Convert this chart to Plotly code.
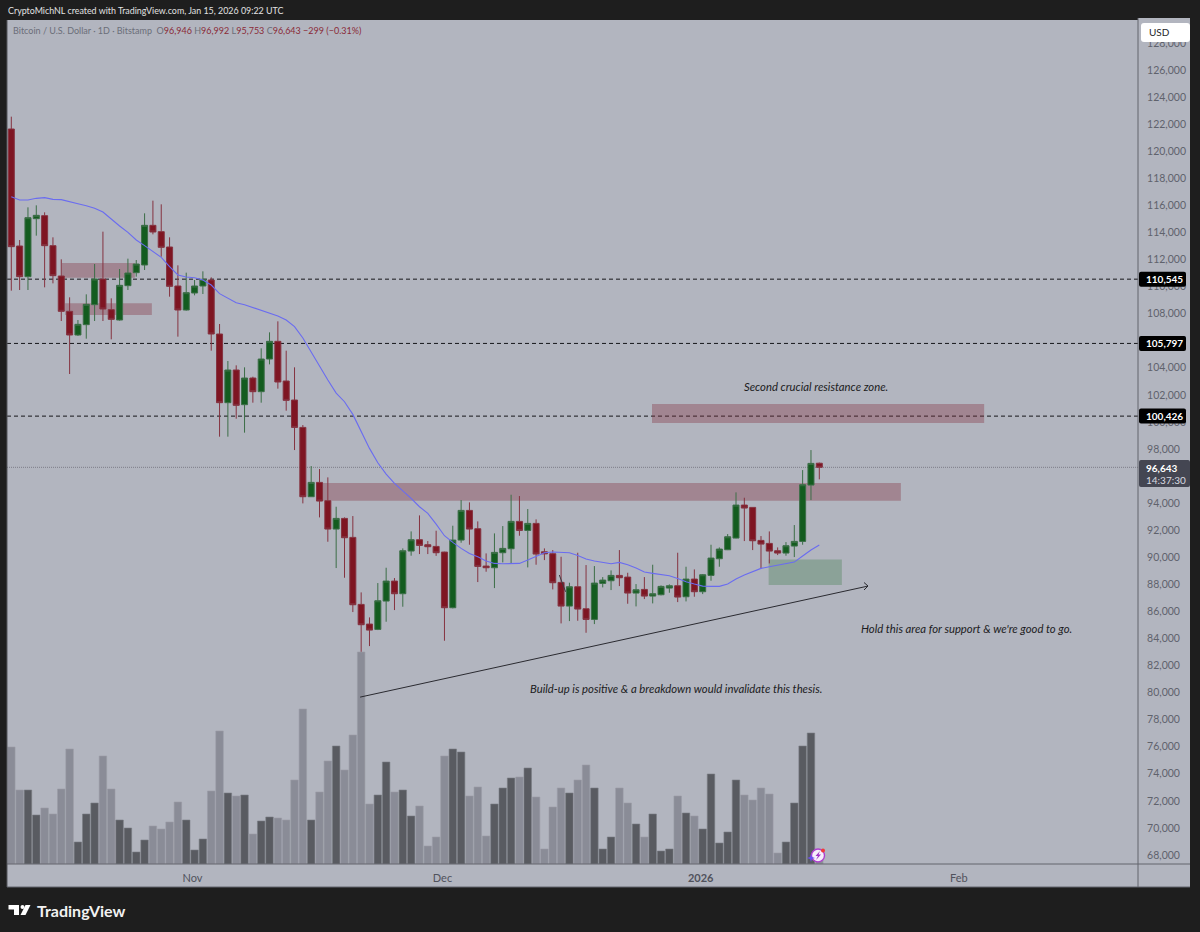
# BTC/USD daily chart, redrawn from a TradingView snapshot
import pandas as pd
import plotly.graph_objects as go

dates = pd.date_range("2025-10-10", "2026-01-15", freq="D")

opens = [121640, 112995, 110729, 115015, 115236, 113020, 110778, 108168, 106419, 107183,
         108660, 110557, 108291, 107527, 110064, 111025, 111591, 114522, 114054, 112921,
         110039, 108266, 109522, 110039, 110483, 106493, 101419, 103833, 101271, 103241,
         102232, 104645, 105951, 103020, 101616, 99593, 94470, 95529, 94175, 92081,
         92869, 91466, 86515, 85062, 84667, 86761, 88239, 87303, 90456, 91293,
         90924, 90800, 90382, 86269, 91268, 93460, 92106, 89347, 89224, 90333,
         90628, 92648, 91983, 92500, 90400, 90259, 88140, 86391, 87820, 86194,
         85406, 88067, 88263, 88657, 88534, 87352, 87623, 87130, 87229, 87722,
         87894, 87081, 88386, 87451, 88657, 89889, 90554, 91416, 93854, 93682,
         91243, 91022, 90480, 90308, 90825, 91170, 95332, 96946]
highs = [122551, 113438, 115852, 116000, 115483, 113635, 112010, 109202, 107527, 109424,
         111665, 114054, 109128, 111295, 112059, 111961, 115409, 116345, 116074, 113635,
         111567, 111025, 110483, 111123, 110680, 107232, 104498, 104178, 104030, 103340,
         105434, 106616, 107429, 105261, 104030, 99766, 96736, 96515, 95899, 93731,
         92943, 93042, 87402, 85555, 88091, 89224, 88461, 90653, 91909, 93091,
         91195, 91958, 90406, 92328, 94224, 94052, 92648, 90283, 91761, 92303,
         94618, 94520, 93559, 92796, 90653, 90530, 90037, 88116, 90332, 89421,
         89347, 88534, 89027, 90529, 88854, 88017, 88534, 89446, 87918, 87993,
         90332, 89298, 89101, 88756, 90923, 90726, 91712, 94790, 94396, 93682,
         91564, 91908, 90726, 91120, 92377, 96440, 97918, 96992]
lows = [109695, 109744, 109744, 113759, 109941, 110236, 107453, 103538, 106345, 106148,
        107453, 107453, 106099, 107478, 109744, 110729, 111222, 113857, 112207, 109251,
        106296, 108217, 109350, 109448, 105261, 98907, 98907, 100237, 99203, 101419,
        101419, 104251, 102454, 100828, 97919, 93978, 94470, 92943, 91145, 89200,
        88485, 85949, 80600, 83436, 84618, 85234, 86096, 86343, 90111, 90234,
        90234, 90100, 83830, 86220, 91072, 90924, 88165, 88929, 87722, 89618,
        89544, 91589, 89249, 89446, 89790, 87623, 85111, 85283, 85308, 84421,
        85061, 87771, 87574, 87869, 86564, 86367, 86909, 86589, 87180, 87376,
        86687, 86736, 87081, 87278, 88263, 89298, 90530, 91392, 91194, 90529,
        89175, 89544, 90160, 90111, 90012, 90923, 94224, 95753]
closes = [112946, 110729, 115089, 115261, 113020, 110803, 108168, 106419, 107207, 108685,
          110557, 108340, 107576, 110089, 111000, 111665, 114522, 114030, 112897, 110015,
          108266, 109547, 110039, 110532, 106493, 101419, 103833, 101222, 103241, 102232,
          104645, 105951, 102946, 101591, 99593, 94470, 95529, 94150, 92081, 92869,
          91441, 86490, 85013, 84618, 86786, 88239, 87303, 90480, 91293, 90875,
          90776, 90333, 86269, 91268, 93460, 92081, 89323, 89224, 90357, 90653,
          92648, 91983, 92500, 90234, 90250, 88116, 86391, 87820, 86170, 85406,
          88091, 88312, 88657, 88485, 87352, 87598, 87130, 87303, 87845, 87894,
          87056, 88386, 87451, 88707, 89938, 90603, 91514, 93854, 93633, 91219,
          90972, 90455, 90308, 90850, 91170, 95357, 96933, 96643]
volumes = [5850, 3700, 3700, 2450, 2800, 2500, 3750, 5750, 1100, 2500,
           3050, 5400, 3750, 2200, 1800, 600, 1200, 1900, 1750, 2100,
           3100, 2200, 700, 1250, 3650, 6650, 3550, 3400, 3450, 1500,
           2150, 2350, 2300, 2200, 4200, 7750, 2200, 3600, 5150, 5900,
           4700, 6450, 10600, 3000, 3450, 5100, 3600, 3700, 2400, 2900,
           900, 1350, 5400, 5750, 5600, 3400, 3850, 1400, 3000, 3800,
           4300, 4350, 4800, 3350, 750, 2850, 3800, 3550, 4200, 4950,
           3800, 750, 1350, 3800, 3050, 2000, 1350, 2500, 650, 750,
           3400, 2550, 2400, 1750, 4500, 1050, 1600, 4200, 3450, 3200,
           3800, 3500, 550, 1100, 3050, 5900, 6550, 400]
ma = [116640, 116394, 116394, 116517, 116566, 116443, 116419, 116246, 116123, 115975,
      115778, 115507, 114965, 114473, 114005, 113438, 113020, 112576, 112158, 111468,
      110852, 110704, 110655, 110483, 110114, 109473, 109128, 108808, 108660, 108463,
      108266, 108069, 107823, 107527, 107034, 106195, 105160, 104052, 103091, 102130,
      101490, 100554, 99273, 98042, 96983, 96145, 95455, 94914, 94347, 93731,
      93239, 92451, 91589, 91096, 90653, 90283, 90037, 89717, 89544, 89520,
      89520, 89544, 89791, 90086, 90333, 90382, 90332, 90332, 90135, 89864,
      89716, 89593, 89519, 89618, 89445, 89199, 88904, 88805, 88731, 88633,
      88436, 88190, 88017, 87869, 87845, 87845, 88017, 88387, 88682, 88928,
      89175, 89298, 89421, 89519, 89642, 90086, 90529, 90899]

levels = [110545, 105797, 100426]
last_price = 96643
price_ticks = list(range(68000, 130000, 2000))
month_ticks = ["2025-11-01", "2025-12-01", "2026-01-01", "2026-02-01"]
month_labels = ["Nov", "Dec", "<b>2026</b>", "Feb"]

# zones: start, end, price top, price bottom
red_zones = [("2025-10-16 02:00", "2025-10-24 20:00", 111739, 110655),
             ("2025-10-16 11:00", "2025-10-26 21:00", 108759, 107897),
             ("2025-12-25 22:00", "2026-02-03 19:00", 101317, 99913),
             ("2025-11-16 07:00", "2026-01-24 19:00", 95480, 94175)]
green_zone = ("2026-01-08 22:00", "2026-01-17 17:00", 89840, 87943)

BG = "#b2b5bf"
DARK = "#1e1e1e"
EDGE = "#62646d"
TICK = "#5f626c"
RED_VALUE = "#8a2a37"
TEXT_FONT = "Lato"


def fx(x):
    return (x - 7) / 1131


def fy(y):
    return (864 - y) / 844


def paper_rect(x0, y0, x1, y1, fill, layer="below"):
    return dict(type="rect", xref="paper", yref="paper", x0=fx(x0), x1=fx(x1), y0=fy(y0), y1=fy(y1),
                fillcolor=fill, line=dict(width=0), layer=layer)


def rounded_box(x0, y0, x1, y1, fill, r=3):
    path = (f"M{fx(x0 + r)},{fy(y0)} L{fx(x1 - r)},{fy(y0)} Q{fx(x1)},{fy(y0)} {fx(x1)},{fy(y0 + r)} "
            f"L{fx(x1)},{fy(y1 - r)} Q{fx(x1)},{fy(y1)} {fx(x1 - r)},{fy(y1)} "
            f"L{fx(x0 + r)},{fy(y1)} Q{fx(x0)},{fy(y1)} {fx(x0)},{fy(y1 - r)} "
            f"L{fx(x0)},{fy(y0 + r)} Q{fx(x0)},{fy(y0)} {fx(x0 + r)},{fy(y0)} Z")
    return dict(type="path", xref="paper", yref="paper", path=path, fillcolor=fill, line=dict(width=0), layer="above")


def paper_line(x0, y0, x1, y1, color=EDGE, width=1):
    return dict(type="line", xref="paper", yref="paper", x0=fx(x0), x1=fx(x1), y0=fy(y0), y1=fy(y1),
                line=dict(color=color, width=width), layer="above")


def paper_poly(points, fill):
    parts = [("M" if i == 0 else "L") + f"{fx(x)},{fy(y)}" for i, (x, y) in enumerate(points)]
    return dict(type="path", xref="paper", yref="paper", path=" ".join(parts) + " Z", fillcolor=fill,
                line=dict(width=0), layer="above")


def label(x, y, text, size=11, color="#ffffff", family=TEXT_FONT):
    return dict(xref="paper", yref="paper", x=fx(x), y=fy(y), text=text, showarrow=False, xanchor="left",
                yanchor="middle", font=dict(size=size, color=color, family=family))


def note(x, y, text):
    return dict(x=x, y=y, text=f"<i>{text}</i>", showarrow=False, font=dict(size=11.3, color="#1c1c22", family=TEXT_FONT))


fig = go.Figure()

fig.add_trace(go.Candlestick(
    x=dates, open=opens, high=highs, low=lows, close=closes, yaxis="y",
    increasing=dict(fillcolor="#135c1f", line=dict(color="#3c6e47", width=1)),
    decreasing=dict(fillcolor="#7e1522", line=dict(color="#853340", width=1)),
    hoverinfo="skip", showlegend=False))
fig.add_trace(go.Scatter(x=dates, y=ma, mode="lines", line=dict(color="#6a6cf0", width=1.1), yaxis="y",
                         hoverinfo="skip", showlegend=False))
fig.add_trace(go.Bar(
    x=dates, y=volumes, yaxis="y2",
    marker=dict(color=["#595b61" if c >= o else "#8a8c97" for o, c in zip(opens, closes)],
                line=dict(color=["#7b7d85" if c >= o else "#9a9ca6" for o, c in zip(opens, closes)], width=0.6)),
    hoverinfo="skip", showlegend=False))

shapes = [
    # price and time scale panels
    paper_rect(1138, 18, 1190, 887, BG),
    paper_rect(7, 864, 1190, 887, BG),
]
for start, end, top, bottom in red_zones:
    shapes.append(dict(type="rect", xref="x", yref="y", x0=start, x1=end, y0=bottom, y1=top,
                       fillcolor="rgba(130,50,65,0.36)", line=dict(width=0), layer="below"))
shapes.append(dict(type="rect", xref="x", yref="y", x0=green_zone[0], x1=green_zone[1],
                   y0=green_zone[3], y1=green_zone[2], fillcolor="rgba(60,120,70,0.32)",
                   line=dict(width=0), layer="below"))
for level in levels:
    shapes.append(dict(type="line", xref="paper", yref="y", x0=0, x1=1, y0=level, y1=level,
                       line=dict(color="#16161a", width=1, dash="4px,3px"), layer="below"))
shapes.append(dict(type="line", xref="paper", yref="y", x0=0, x1=1, y0=last_price, y1=last_price,
                   line=dict(color="#7c7e88", width=1, dash="1px,1px"), layer="below"))
# small stray drawing in the reference
shapes.append(dict(type="line", xref="x", yref="y", x0="2025-12-14 19:00", x1="2025-12-15 13:00",
                   y0=88682, y1=87450, line=dict(color="#3a3a40", width=1)))
# trend arrow, with an open head
shapes.append(dict(type="line", xref="x", yref="y", x0="2025-11-20 21:00", x1="2026-01-20 20:00",
                   y0=79665, y1=87868, line=dict(color="#2a2a30", width=1)))
shapes += [paper_line(864, 582.5, 868, 586, "#2a2a30"), paper_line(864, 590, 868, 586, "#2a2a30")]
# panel edges
shapes += [
    paper_line(1138, 18, 1138, 887),
    paper_line(7, 864, 1190, 864),
    paper_line(7, 887, 1190, 887),
    paper_line(7, 20, 7, 887, "#54565c", 1),
]
shapes.append(rounded_box(1141, 23, 1190, 42, "#ffffff"))
# price labels on the scale
for level in levels:
    y_px = 70 + (126000 - level) / 73.9
    shapes.append(rounded_box(1139, y_px - 7.5, 1186, y_px + 7.5, "#000000", r=2))
shapes.append(rounded_box(1139, 460, 1190, 487, "#444652", r=2))
# TradingView logo
shapes.append(paper_poly([(8.5, 905), (19, 905), (19, 915), (14, 915), (14, 909.5), (8.5, 909.5)], "#ffffff"))
shapes.append(dict(type="circle", xref="paper", yref="paper", x0=fx(20.5), x1=fx(24.5), y0=fy(909), y1=fy(905),
                   fillcolor="#ffffff", line=dict(width=0), layer="above"))
shapes.append(paper_poly([(25.5, 905), (30.5, 905), (25.5, 915), (20.5, 915)], "#ffffff"))
# assistant badge on the time scale
shapes.append(dict(type="circle", xref="paper", yref="paper", x0=fx(811.5), x1=fx(824.5), y0=fy(862), y1=fy(849),
                   fillcolor="#f6eefa", line=dict(color="#b03fd0", width=1.4), layer="above"))
shapes.append(paper_poly([(820, 851), (815.5, 856), (818, 856), (816, 860), (821, 854.5), (818.5, 854.5)], "#a030c8"))
shapes.append(dict(type="circle", xref="paper", yref="paper", x0=fx(821), x1=fx(825), y0=fy(852.5), y1=fy(848.5),
                   fillcolor="#f03a3a", line=dict(width=0), layer="above"))
shapes.append(paper_poly([(811, 854), (812, 857), (815, 858), (812, 859), (811, 862), (810, 859), (807, 858),
                          (810, 857)], "#6a4cf0"))

legend_text = ('<span style="color:#6b6e79">Bitcoin / U.S. Dollar · 1D · Bitstamp  </span>'
               f'<span style="color:#6b6e79">O</span><span style="color:{RED_VALUE}">96,946 </span>'
               f'<span style="color:#6b6e79">H</span><span style="color:{RED_VALUE}">96,992 </span>'
               f'<span style="color:#6b6e79">L</span><span style="color:{RED_VALUE}">95,753 </span>'
               f'<span style="color:#6b6e79">C</span><span style="color:{RED_VALUE}">96,643 −299 (−0.31%)</span>')

annotations = [
    label(6, 10, "CryptoMichNL created with TradingView.com, Jan 15, 2026 09:22 UTC", size=8.9, color="#e2e2e2"),
    label(11, 30.5, legend_text, size=9),
    label(1147, 32.5, "USD", size=10, color="#26262b"),
    label(1144, 467.5, "<b>96,643</b>", size=10),
    label(1144, 480, "14:37:30", size=10, color="#d9dae0"),
    label(35, 910, "<b>TradingView</b>", size=16, color="#f2f2f2"),
    note("2026-01-14 14:00", 102648, "Second crucial resistance zone."),
    note("2026-02-01 17:00", 84764, "Hold this area for support &amp; we're good to go."),
    note("2025-12-28 19:00", 80330, "Build-up is positive &amp; a breakdown would invalidate this thesis."),
]
for level in levels:
    annotations.append(dict(xref="paper", yref="y", x=fx(1144), y=level, text=f"<b>{level:,}</b>", showarrow=False,
                            xanchor="left", yanchor="middle", font=dict(size=10, color="#ffffff", family=TEXT_FONT)))

fig.update_layout(
    width=1200, height=932,
    margin=dict(l=7, r=62, t=20, b=68),
    paper_bgcolor=DARK,
    plot_bgcolor=BG,
    bargap=0.1,
    boxgap=0.15,
    boxgroupgap=0.15,
    showlegend=False,
    shapes=shapes,
    annotations=annotations,
    xaxis=dict(type="date", range=["2025-10-09 11:36", "2026-02-22 06:14"], rangeslider=dict(visible=False),
               showgrid=False, zeroline=False, tickmode="array", tickvals=month_ticks, ticktext=month_labels,
               ticks="outside", ticklen=4, ticklabelshift=-2, tickcolor="rgba(0,0,0,0)",
               tickfont=dict(size=11, color="#50525c", family=TEXT_FONT)),
    yaxis=dict(side="right", range=[67335, 129693], showgrid=False, zeroline=False, tickmode="array",
               tickvals=price_ticks, ticktext=[f"{t:,}" for t in price_ticks], ticks="outside", ticklen=6,
               tickcolor="rgba(0,0,0,0)", tickfont=dict(size=10.5, color=TICK, family=TEXT_FONT)),
    yaxis2=dict(overlaying="y", side="right", range=[0, 42200], visible=False),
)

# the page default of an 8px body margin would shift the whole picture
fig.write_html("out.html", config={"displayModeBar": False}, post_script="document.body.style.margin='0';")
